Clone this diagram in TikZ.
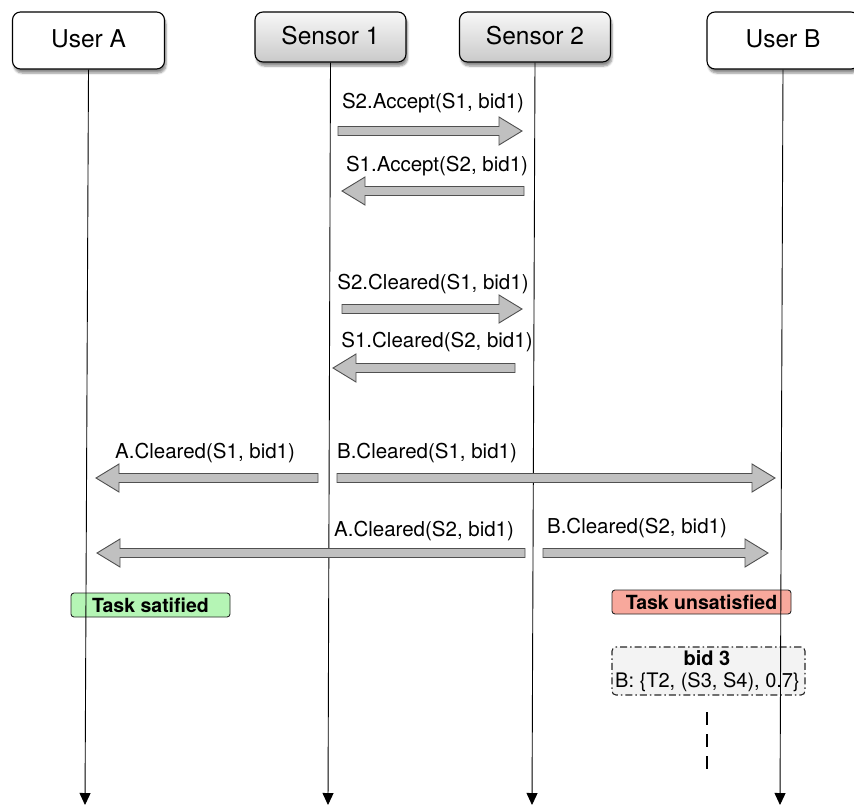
\documentclass[tikz,border=0pt]{standalone}
\usepackage{fontspec}
\setmainfont{TeX Gyre Heros}
\usetikzlibrary{arrows.meta,shadows.blur,calc}

\definecolor{arrowfill}{HTML}{C0C0C0}
\definecolor{arrowedge}{HTML}{505050}
\definecolor{okgreen}{HTML}{B5F5B5}
\definecolor{badred}{HTML}{F8A89C}
\definecolor{bidgray}{HTML}{F3F3F3}

% Wide outlined message arrow from named coordinate #1 to named coordinate #2
\newcommand\msgarrow[2]{%
  \path[draw=arrowedge, fill=arrowfill, line width=0.9pt, line join=miter]
    let \p1=(#1), \p2=(#2), \n2={\x2-23*sign(\x2-\x1)} in
    (\x1,{\y1+4.5pt}) -- ({\n2*1pt},{\y1+4.5pt}) -- ({\n2*1pt},{\y1+14pt})
    -- (\x2,\y1) -- ({\n2*1pt},{\y1-14pt}) -- ({\n2*1pt},{\y1-4.5pt})
    -- (\x1,{\y1-4.5pt}) -- cycle;}

\tikzset{
  actor/.style={draw=black, line width=1.1pt, rounded corners=8pt, inner sep=0pt,
    font=\fontsize{24.5}{28}\selectfont, text depth=4pt,
    blur shadow={shadow xshift=1.5pt, shadow yshift=-4pt, shadow blur steps=6, shadow opacity=45}},
  user/.style={actor, fill=white, minimum width=152pt, minimum height=57pt},
  sensor/.style={actor, top color=gray!6, bottom color=gray!42, minimum width=151pt, minimum height=50pt},
  life/.style={draw=black, line width=0.9pt, -{Triangle[length=12pt,width=11pt]}},
  lbl/.style={inner sep=0pt, font=\fontsize{20.5}{24}\selectfont},
  taskbox/.style={draw=black!85, line width=0.9pt, rounded corners=3pt, inner sep=0pt,
    minimum height=24pt, font=\fontsize{19.5}{22}\selectfont\bfseries},
  bidbox/.style={draw=black!85, fill=bidgray, line width=1.1pt, rounded corners=4pt,
    dash pattern=on 7pt off 3pt on 1.5pt off 3pt, minimum width=193pt, minimum height=48pt},
}

\begin{document}
\begin{tikzpicture}[x=1pt, y=-1pt]
\useasboundingbox (0,0) rectangle (854,806);

% participants
\node[user]   (ua) at (88.5,40.5) {User A};
\node[sensor] (s1) at (330.5,37)  {Sensor 1};
\node[sensor] (s2) at (535,37)    {Sensor 2};
\node[user]   (ub) at (783,40.5)  {User B};

% state notes
\node[taskbox, fill=okgreen, minimum width=159pt] (sat) at (150.5,605) {Task satified};
\node[taskbox, fill=badred, minimum width=179pt] (unsat) at (701.5,602) {Task unsatisfied};
\node[bidbox] (bid) at (708.5,671) {};
\node[lbl, font=\fontsize{20}{24}\selectfont\bfseries] (bidt) at (707,658) {bid 3};
\node[lbl, font=\fontsize{20}{24}\selectfont] (bidc) at (707.5,682) {B: \{T2, (S3, S4), 0.7\}};

% lifelines
\coordinate (ua-end) at (85,805);
\coordinate (s1-end) at (328,805);
\coordinate (s2-end) at (532,805);
\coordinate (ub-end) at (780,805);
\draw[life] (ua.south) -- (ua-end);
\draw[life] (s1.south) -- (s1-end);
\draw[life] (s2.south) -- (s2-end);
\draw[life] (ub.south) -- (ub-end);

% message end points
\coordinate (m1a) at (338,131); \coordinate (m1b) at (522,131);
\coordinate (m2a) at (524,191); \coordinate (m2b) at (342,191);
\coordinate (m3a) at (342,309); \coordinate (m3b) at (522,309);
\coordinate (m4a) at (515,368); \coordinate (m4b) at (333,368);
\coordinate (m5a) at (318,478); \coordinate (m5b) at (96,478);
\coordinate (m6a) at (337,478); \coordinate (m6b) at (775,478);
\coordinate (m7a) at (525,553); \coordinate (m7b) at (97,553);
\coordinate (m8a) at (543,553); \coordinate (m8b) at (768,553);

\msgarrow{m1a}{m1b}
\msgarrow{m2a}{m2b}
\msgarrow{m3a}{m3b}
\msgarrow{m4a}{m4b}
\msgarrow{m5a}{m5b}
\msgarrow{m6a}{m6b}
\msgarrow{m7a}{m7b}
\msgarrow{m8a}{m8b}

% message labels
\node[lbl] (l1) at (433,103) {S2.Accept(S1, bid1)};
\node[lbl] (l2) at (437,166) {S1.Accept(S2, bid1)};
\node[lbl] (l3) at (433,284) {S2.Cleared(S1, bid1)};
\node[lbl] (l4) at (437,342) {S1.Cleared(S2, bid1)};
\node[lbl] (l5) at (205,453) {A.Cleared(S1, bid1)};
\node[lbl] (l6) at (427,453) {B.Cleared(S1, bid1)};
\node[lbl] (l7) at (424,531) {A.Cleared(S2, bid1)};
\node[lbl] (l8) at (637,528) {B.Cleared(S2, bid1)};

% continuation of bid 3
\coordinate (c1) at (707,712);
\coordinate (c2) at (707,773);
\draw[line width=2.6pt, dash pattern=on 13pt off 9pt] (c1) -- (c2);
\end{tikzpicture}
\end{document}
